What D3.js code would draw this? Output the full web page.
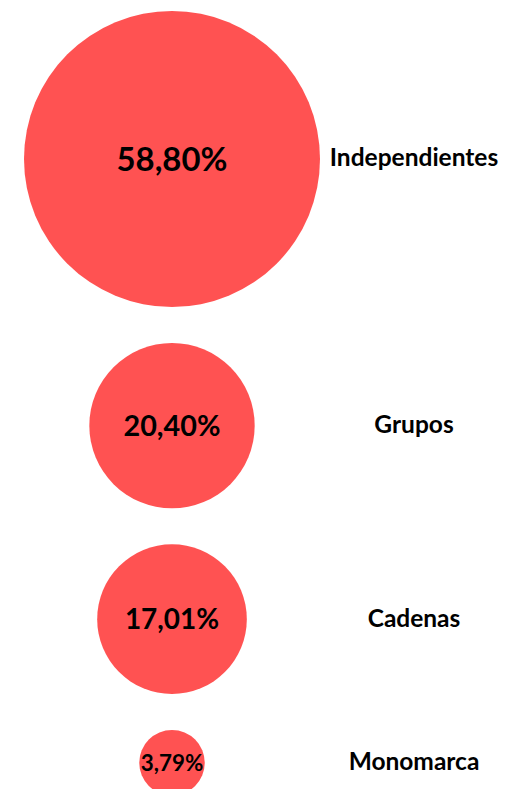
<!DOCTYPE html>
<head>
  <meta charset="utf-8">
  <script src="https://d3js.org/d3.v7.min.js"></script>
  <style>
    body { margin:0; background:#fff; }
    .value { font-family: Lato, "Open Sans", sans-serif; font-weight: 700; fill: #000; }
    .cat { font-family: Lato, "Open Sans", sans-serif; font-weight: 700; font-size: 24.5px; fill: #000; }
  </style>
</head>

<body>
  <script>
  // ---------- data ----------
    var categories = ["Independientes", "Grupos", "Cadenas", "Monomarca"];
    var shares = [58.80, 20.40, 17.01, 3.79];
    var shareLabels = ["58,80%", "20,40%", "17,01%", "3,79%"];

    var width = 516, height = 789;

    var svg = d3.select("body").append("svg")
      .attr("width", width)
      .attr("height", height);

  // ---------- scales ----------
    var r = d3.scalePow().exponent(0.55)
      .domain([0, d3.max(shares)])
      .range([0, 148]);

    // label size follows bubble size
    var fontSize = d3.scaleLinear()
      .domain([30, 80, 150])
      .range([22, 28.6, 33])
      .clamp(true);

    // stack circles top to bottom with a fixed gap
    var startY = 11, gap = 36, cx = 172, labelX = 414;
    var nodes = [];
    var cursorY = startY;
    shares.forEach(function(v, i) {
      var rad = r(v);
      nodes.push({ cat: categories[i], value: v, label: shareLabels[i], r: rad, cy: cursorY + rad });
      cursorY += 2 * rad + gap;
    });

    var g = svg.selectAll("g.bubble")
      .data(nodes)
      .enter().append("g")
      .attr("class", "bubble")
      .attr("transform", d => "translate(0," + d.cy + ")");

    g.append("circle")
      .attr("cx", cx)
      .attr("cy", 0)
      .attr("r", d => d.r)
      .attr("fill", "#ff5252");

    g.append("text")
      .attr("class", "value")
      .attr("x", cx)
      .attr("dy", "0.36em")
      .attr("text-anchor", "middle")
      .style("font-size", d => fontSize(d.r) + "px")
      .text(d => d.label);

    g.append("text")
      .attr("class", "cat")
      .attr("x", labelX)
      .attr("dy", "0.3em")
      .attr("text-anchor", "middle")
      .text(d => d.cat);
  </script>
</body>
